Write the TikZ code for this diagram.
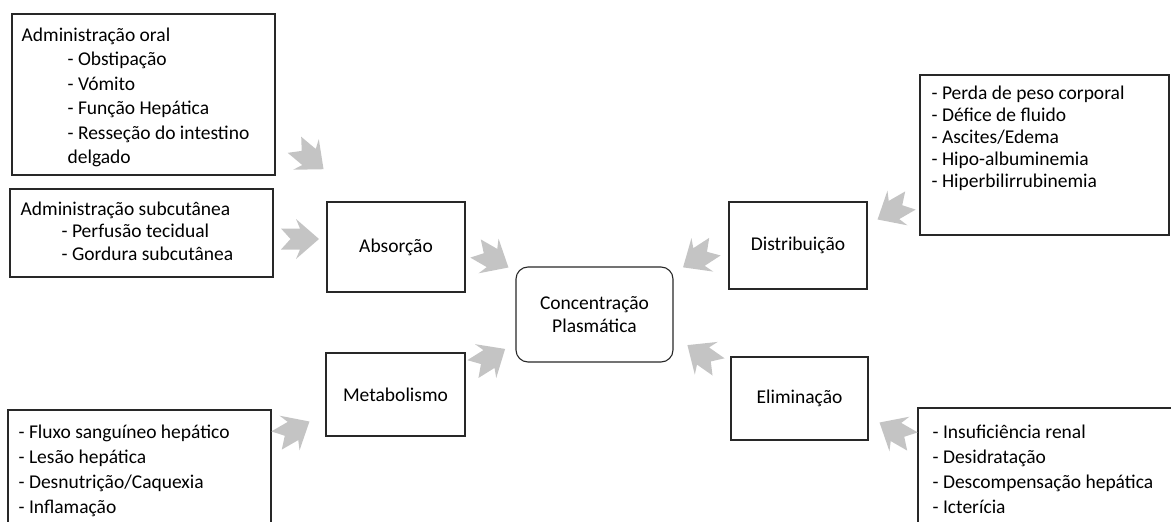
\documentclass[tikz,border=0pt]{standalone}
\usepackage{fontspec}
\setmainfont{Carlito}
\usepackage{xcolor}
\usetikzlibrary{positioning}
\definecolor{arrgray}{RGB}{196,196,196}
\definecolor{lineblk}{RGB}{40,40,40}

\begin{document}
\begin{tikzpicture}[x=1pt, y=-1pt,
  every node/.style={font=\fontsize{19.5}{23}\selectfont},
  box/.style={draw=lineblk, line width=1.1pt, inner sep=0pt},
  lst/.style={inner sep=0pt, align=left, anchor=north west},
  fsz/.style={font=\fontsize{19.5}{#1}\selectfont},
  blk/.pic={\fill[arrgray] (-19,10.5) -- (-9.5,0) -- (-19,-10.5) -- (0,-10.5) -- (-4,-20)
    -- (19,0) -- (-4,20) -- (0,10.5) -- cycle;}]
  \path[use as bounding box, clip] (0,0) rectangle (1171,522);

  % centre and the four stages
  \node[box, rounded corners=12pt, align=center, minimum width=157pt, minimum height=95pt]
    (conc) at (594.5,314.5) {Concentração\\Plasmática};
  \node[box, minimum width=138pt, minimum height=90pt] (abs) at (396,247) {Absorção};
  \node[box, minimum width=139pt, minimum height=83pt] (meta) at (395.5,394.5) {Metabolismo};
  \node[box, minimum width=138pt, minimum height=87pt] (dist) at (798,245.5) {Distribuição};
  \node[box, minimum width=137pt, minimum height=83pt] (elim) at (799.5,398.5) {Eliminação};

  % factor boxes
  \node[box, minimum width=263pt, minimum height=161pt] (oral) at (143.5,94.5) {};
  \node[box, minimum width=263pt, minimum height=88pt] (subc) at (141.5,233) {};
  \node[box, minimum width=263pt, minimum height=135pt] (flux) at (139.5,477.5) {};
  \node[box, minimum width=249pt, minimum height=160pt] (perda) at (1044.5,155) {};
  \node[box, minimum width=272pt, minimum height=137pt] (insuf) at (1054,476.5) {};

  \node[lst, fsz=24.5, below right=14pt and 10pt of oral.north west] (oraltxt)
    {Administração oral\\
     \hspace*{46pt}- Obstipação\\
     \hspace*{46pt}- Vómito\\
     \hspace*{46pt}- Função Hepática\\
     \hspace*{46pt}- Resseção do intestino\\
     \hspace*{46pt}delgado};
  \node[lst, fsz=22.5, below right=13pt and 11pt of subc.north west] (subctxt)
    {Administração subcutânea\\
     \hspace*{41pt}- Perfusão tecidual\\
     \hspace*{41pt}- Gordura subcutânea};
  \node[lst, fsz=25, below right=15pt and 11pt of flux.north west] (fluxtxt)
    {- Fluxo sanguíneo hepático\\
     - Lesão hepática\\
     - Desnutrição/Caquexia\\
     - Inflamação};
  \node[lst, fsz=22, below right=11pt and 12pt of perda.north west] (perdatxt)
    {- Perda de peso corporal\\
     - Défice de fluido\\
     - Ascites/Edema\\
     - Hipo-albuminemia\\
     - Hiperbilirrubinemia};
  \node[lst, fsz=25, below right=17pt and 15pt of insuf.north west] (insuftxt)
    {- Insuficiência renal\\
     - Desidratação\\
     - Descompensação hepática\\
     - Icterícia};

  % grey block arrows
  \foreach \p/\a in {{(309,157)}/-40, {(300,239)}/0, {(492,258)}/-30, {(489,359)}/32,
                     {(293,431)}/30, {(699,257)}/-147, {(894,210)}/-150,
                     {(703,356)}/145, {(896,432)}/150}
    \pic[rotate=\a] at \p {blk};
\end{tikzpicture}
\end{document}
